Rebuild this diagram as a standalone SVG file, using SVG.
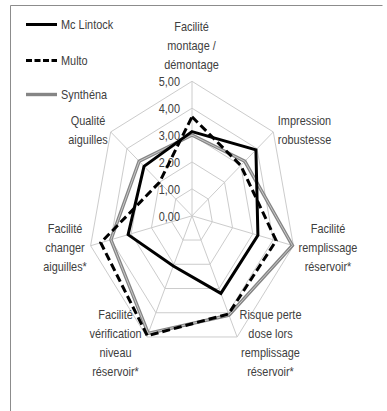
<svg xmlns="http://www.w3.org/2000/svg" width="387" height="411" viewBox="0 0 387 411">
<style>
text{font-family:"Liberation Sans",Arial,sans-serif;font-size:13px;fill:#404040}
.m{text-anchor:middle}
.e{text-anchor:end}
.grid{fill:none;stroke:#cccccc;stroke-width:1}
.mc{fill:none;stroke:#000;stroke-width:3;stroke-linejoin:miter}
.mu{fill:none;stroke:#000;stroke-width:3;stroke-dasharray:8 4;stroke-linejoin:miter}
.sy{fill:none;stroke:#858585;stroke-width:3.4;stroke-linejoin:miter}
.syi{fill:none;stroke:#d0d0d0;stroke-width:0.9;stroke-linejoin:miter}
</style>
<rect width="387" height="411" fill="#fff"/>
<path d="M10.5,411 V5.5 H382.5" fill="none" stroke="#8c8c8c" stroke-width="1"/>
<g id="grid">
<polygon class="grid" points="192,81.3 273.31,131.94 293.4,245.73 237.13,336.98 146.88,336.98 90.61,245.73 110.69,131.94"/>
<polygon class="grid" points="192,108.2 257.05,148.71 273.12,239.74 228.1,312.74 155.9,312.74 110.88,239.74 126.95,148.71"/>
<polygon class="grid" points="192,135.1 240.79,165.48 252.84,233.76 219.08,288.51 164.93,288.51 131.16,233.76 143.21,165.48"/>
<polygon class="grid" points="192,162 224.52,182.26 232.56,227.77 210.05,264.27 173.95,264.27 151.44,227.77 159.48,182.26"/>
<polygon class="grid" points="192,188.9 208.26,199.03 212.28,221.79 201.03,240.04 182.98,240.04 171.72,221.79 175.74,199.03"/>
<path class="grid" d="M192,215.8L192,81.3M192,215.8L273.31,131.94M192,215.8L293.4,245.73M192,215.8L237.13,336.98M192,215.8L146.88,336.98M192,215.8L90.61,245.73M192,215.8L110.69,131.94"/>
</g>
<g id="ticks">
<text class="e" transform="translate(180,220.5) scale(0.84,1)">0,00</text>
<text class="e" transform="translate(180,193.6) scale(0.84,1)">1,00</text>
<text class="e" transform="translate(180,166.7) scale(0.84,1)">2,00</text>
<text class="e" transform="translate(180,139.8) scale(0.84,1)">3,00</text>
<text class="e" transform="translate(180,112.9) scale(0.84,1)">4,00</text>
<text class="e" transform="translate(180,86) scale(0.84,1)">5,00</text>
</g>
<g id="series">
<g id="synthena">
<polygon class="sy" points="192,135.1 244.85,161.29 292.38,245.43 229,315.17 148.23,333.34 110.88,239.74 139.15,161.29"/>
<polygon class="syi" points="192,135.1 244.85,161.29 292.38,245.43 229,315.17 148.23,333.34 110.88,239.74 139.15,161.29"/>
</g>
<polygon id="multo" class="mu" points="192,116.81 240.79,165.48 276.16,240.64 228.55,313.96 147.33,335.77 100.74,242.74 159.48,182.26"/>
<polygon id="mclintock" class="mc" points="192,131.6 255.91,149.89 257.91,235.25 220.88,293.36 173.32,265.97 128.12,234.66 144.03,166.32"/>
</g>
<g id="axis-labels">
<g id="label-montage">
<text class="m" transform="translate(191.5,30.5) scale(0.84,1)">Facilité</text>
<text class="m" transform="translate(191.5,49.5) scale(0.84,1)">montage /</text>
<text class="m" transform="translate(191.5,68.5) scale(0.84,1)">démontage</text>
</g>
<g id="label-robustesse">
<text class="m" transform="translate(304.5,124.5) scale(0.84,1)">Impression</text>
<text class="m" transform="translate(304.5,143.5) scale(0.84,1)">robustesse</text>
</g>
<g id="label-remplissage">
<text class="m" transform="translate(328,233) scale(0.84,1)">Facilité</text>
<text class="m" transform="translate(328,252) scale(0.84,1)">remplissage</text>
<text class="m" transform="translate(328,271) scale(0.84,1)">réservoir*</text>
</g>
<g id="label-risque">
<text class="m" transform="translate(270.5,318.5) scale(0.84,1)">Risque perte</text>
<text class="m" transform="translate(270.5,337.5) scale(0.84,1)">dose lors</text>
<text class="m" transform="translate(270.5,356.5) scale(0.84,1)">remplissage</text>
<text class="m" transform="translate(270.5,375.5) scale(0.84,1)">réservoir*</text>
</g>
<g id="label-verification">
<text class="m" transform="translate(115.5,318.5) scale(0.84,1)">Facilité</text>
<text class="m" transform="translate(115.5,337.5) scale(0.84,1)">vérification</text>
<text class="m" transform="translate(115.5,356.5) scale(0.84,1)">niveau</text>
<text class="m" transform="translate(115.5,375.5) scale(0.84,1)">réservoir*</text>
</g>
<g id="label-changer">
<text class="m" transform="translate(65,233) scale(0.84,1)">Facilité</text>
<text class="m" transform="translate(65,252) scale(0.84,1)">changer</text>
<text class="m" transform="translate(65,271) scale(0.84,1)">aiguilles*</text>
</g>
<g id="label-qualite">
<text class="m" transform="translate(88,124.5) scale(0.84,1)">Qualité</text>
<text class="m" transform="translate(88,143.5) scale(0.84,1)">aiguilles</text>
</g>
</g>
<g id="legend">
<line x1="26" y1="24.5" x2="57" y2="24.5" stroke="#000" stroke-width="3"/>
<text transform="translate(61,29) scale(0.84,1)">Mc Lintock</text>
<line x1="26" y1="60.5" x2="57" y2="60.5" stroke="#000" stroke-width="3" stroke-dasharray="6 2.5"/>
<text transform="translate(61,64.5) scale(0.84,1)">Multo</text>
<line x1="26" y1="94.5" x2="57" y2="94.5" stroke="#858585" stroke-width="3.4"/>
<text transform="translate(61,98.5) scale(0.84,1)">Synthéna</text>
</g>
</svg>
